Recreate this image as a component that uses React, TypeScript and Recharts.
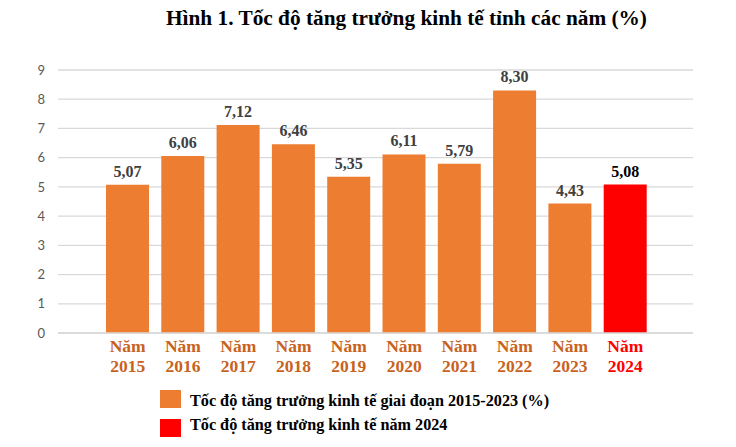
import React from "react";
import { BarChart, Bar, XAxis, YAxis, CartesianGrid, Cell, LabelList } from "recharts";

const years = ["2015", "2016", "2017", "2018", "2019", "2020", "2021", "2022", "2023", "2024"];
const growth = [5.07, 6.06, 7.12, 6.46, 5.35, 6.11, 5.79, 8.3, 4.43, 5.08];
const yTicks = [0, 1, 2, 3, 4, 5, 6, 7, 8, 9];
const legendLabels = [
  "Tốc độ tăng trưởng kinh tế giai đoạn 2015-2023 (%)",
  "Tốc độ tăng trưởng kinh tế năm 2024",
];
const title = "Hình 1. Tốc độ tăng trưởng kinh tế tỉnh các năm (%)";

const ORANGE = "#ED7D31";
const RED = "#FF0000";
const TICK_ORANGE = "#C8621C";
const SERIF = '"Liberation Serif", "Times New Roman", serif';

const data = years.map((y, i) => ({ year: y, value: growth[i] }));
const isCurrent = (i: number) => i === years.length - 1;

const fmt = (v: number) => v.toFixed(2).replace(".", ",");

function YearTick(props: any) {
  const { x, y, payload, index } = props;
  const color = isCurrent(index) ? RED : TICK_ORANGE;
  return (
    <text
      x={x}
      y={y}
      textAnchor="middle"
      fill={color}
      fontFamily={SERIF}
      fontWeight="bold"
      fontSize={17.5}
    >
      <tspan x={x} dy={11}>Năm</tspan>
      <tspan x={x} dy={20}>{payload.value}</tspan>
    </text>
  );
}

function ValueLabel(props: any) {
  const { x, y, width, value, index } = props;
  return (
    <text
      x={x + width / 2}
      y={y - 8}
      textAnchor="middle"
      fill={isCurrent(index) ? "#000000" : "#404040"}
      fontFamily={SERIF}
      fontWeight="bold"
      fontSize={16}
    >
      {fmt(value)}
    </text>
  );
}

// square tops and text tops for the two legend rows
const legendBoxTop = [390, 419];
const legendTextTop = [392, 415.5];

export default function App() {
  return (
    <div style={{ position: "absolute", left: 0, top: 0, width: 736, height: 447, background: "#fff" }}>
      <div
        style={{
          position: "absolute",
          top: 8,
          left: 0,
          width: 813,
          textAlign: "center",
          fontFamily: SERIF,
          fontWeight: "bold",
          fontSize: 21.3,
          lineHeight: "21px",
          color: "#000",
          whiteSpace: "nowrap",
        }}
      >
        {title}
      </div>
      <BarChart width={736} height={447} data={data} margin={{ top: 70, right: 43, left: 8, bottom: 74 }}>
        <CartesianGrid vertical={false} stroke="#D9D9D9" strokeWidth={1.3} />
        <XAxis
          dataKey="year"
          height={40}
          padding={{ left: 42, right: 40 }}
          axisLine={{ stroke: "#D9D9D9", strokeWidth: 1.3 }}
          tickLine={false}
          interval={0}
          tick={<YearTick />}
        />
        <YAxis
          width={50}
          domain={[0, 9]}
          ticks={yTicks}
          interval={0}
          axisLine={false}
          tickLine={false}
          tickMargin={7}
          tick={{ fill: "#595959", fontSize: 13, fontFamily: "Lato, sans-serif" }}
        />
        <Bar dataKey="value" barSize={43} isAnimationActive={false}>
          {data.map((d, i) => (
            <Cell key={d.year} fill={isCurrent(i) ? RED : ORANGE} />
          ))}
          <LabelList dataKey="value" content={<ValueLabel />} />
        </Bar>
      </BarChart>
      {legendLabels.map((label, i) => (
        <React.Fragment key={label}>
          <div
            style={{
              position: "absolute",
              left: 160,
              top: legendBoxTop[i],
              width: 21,
              height: 18,
              background: i === 0 ? ORANGE : RED,
            }}
          />
          <div
            style={{
              position: "absolute",
              left: 190,
              top: legendTextTop[i],
              whiteSpace: "nowrap",
              fontFamily: SERIF,
              fontWeight: "bold",
              fontSize: 16.2,
              lineHeight: "18px",
              color: "#000",
            }}
          >
            {label}
          </div>
        </React.Fragment>
      ))}
    </div>
  );
}
